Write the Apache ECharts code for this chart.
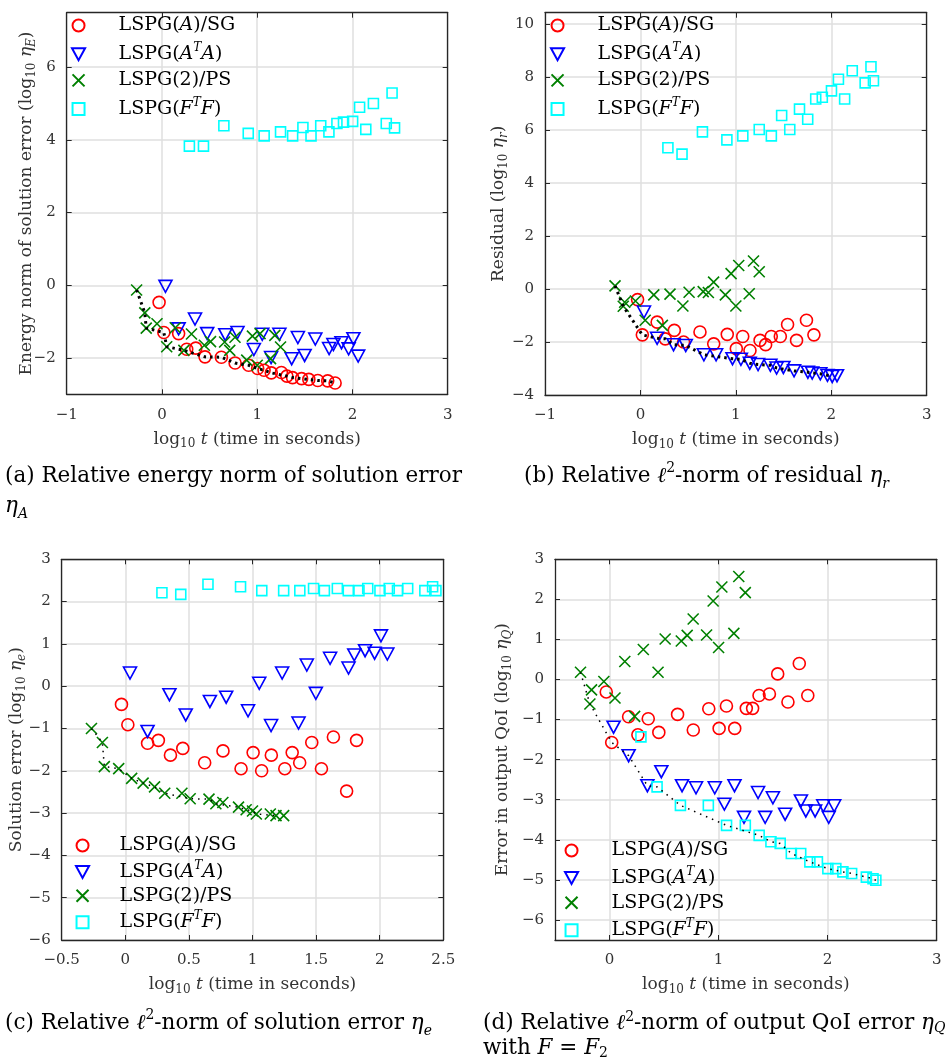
<!DOCTYPE html>
<html>
<head>
<meta charset="utf-8">
<script src="https://cdn.jsdelivr.net/npm/echarts@6/dist/echarts.min.js"></script>
<style>html,body{margin:0;padding:0;background:#fff}#c{width:950px;height:1059px}</style>
</head>
<body>
<div id="c"></div>
<script>
// ---------------- data ----------------
const seriesNames = ['LSPG(A)/SG', 'LSPG(ATA)', 'LSPG(2)/PS', 'LSPG(FTF)'];

// log10 wall time (same runs in all four panels)
const xRed   = [-0.03, 0.02, 0.175, 0.26, 0.355, 0.452, 0.624, 0.768, 0.91, 1.005, 1.072, 1.148, 1.254, 1.312, 1.371, 1.466, 1.542, 1.636, 1.74, 1.818];
const xBlue  = [0.037, 0.175, 0.347, 0.475, 0.665, 0.793, 0.965, 1.053, 1.146, 1.233, 1.362, 1.427, 1.498, 1.61, 1.755, 1.8, 1.885, 1.96, 2.01, 2.06];
const xGreen = [-0.266, -0.18, -0.165, -0.052, 0.05, 0.14, 0.23, 0.31, 0.445, 0.51, 0.658, 0.712, 0.767, 0.89, 0.95, 1.0, 1.03, 1.14, 1.185, 1.245];
const xCyan  = [0.288, 0.436, 0.65, 0.906, 1.073, 1.245, 1.372, 1.48, 1.565, 1.667, 1.753, 1.837, 1.906, 2.002, 2.075, 2.14, 2.22, 2.355, 2.416, 2.442];

// (a) energy norm of solution error
const yRedA   = [-0.47, -1.30, -1.33, -1.76, -1.73, -1.97, -1.98, -2.14, -2.20, -2.29, -2.34, -2.41, -2.40, -2.50, -2.54, -2.57, -2.59, -2.62, -2.63, -2.69];
const yBlueA  = [-0.03, -1.20, -0.93, -1.33, -1.36, -1.30, -1.77, -1.35, -1.99, -1.35, -2.02, -1.44, -1.93, -1.48, -1.74, -1.63, -1.58, -1.75, -1.47, -1.95];
const yGreenA = [-0.13, -0.76, -1.18, -1.06, -1.69, -1.17, -1.79, -1.34, -1.65, -1.55, -1.56, -1.79, -1.43, -2.06, -1.40, -2.20, -1.33, -2.02, -1.38, -1.70];
const yCyanA  = [3.83, 3.83, 4.39, 4.18, 4.11, 4.22, 4.11, 4.34, 4.11, 4.39, 4.22, 4.45, 4.49, 4.51, 4.90, 4.29, 5.00, 4.45, 5.29, 4.33];

// (b) residual
const yRedB   = [-0.40, -1.73, -1.25, -1.88, -1.56, -2.00, -1.62, -2.07, -1.71, -2.25, -1.79, -2.32, -1.94, -2.10, -1.79, -1.79, -1.34, -1.94, -1.18, -1.73];
const yBlueB  = [-0.87, -1.86, -2.10, -2.13, -2.48, -2.48, -2.63, -2.65, -2.80, -2.85, -2.88, -2.98, -2.96, -3.09, -3.14, -3.17, -3.20, -3.26, -3.30, -3.27];
const yGreenB = [0.12, -0.65, -0.50, -0.45, -1.18, -0.22, -1.37, -0.19, -0.64, -0.12, -0.10, -0.13, 0.26, -0.22, 0.58, -0.64, 0.89, -0.18, 1.06, 0.65];
const yCyanB  = [5.33, 5.09, 5.93, 5.63, 5.78, 6.02, 5.78, 6.55, 6.02, 6.79, 6.41, 7.17, 7.24, 7.48, 7.92, 7.17, 8.24, 7.78, 8.39, 7.86];

// (c) solution error
const yRedC   = [-0.43, -0.91, -1.35, -1.28, -1.63, -1.47, -1.81, -1.53, -1.95, -1.57, -2.00, -1.63, -1.95, -1.57, -1.81, -1.33, -1.95, -1.20, -2.48, -1.28];
const yBlueC  = [0.31, -1.07, -0.20, -0.68, -0.36, -0.26, -0.58, 0.07, -0.93, 0.31, -0.87, 0.50, -0.17, 0.66, 0.43, 0.74, 0.84, 0.78, 1.19, 0.76];
const yGreenC = [-1.00, -1.33, -1.90, -1.95, -2.18, -2.29, -2.38, -2.53, -2.53, -2.66, -2.67, -2.78, -2.75, -2.86, -2.92, -2.95, -3.02, -3.02, -3.06, -3.06];
const yCyanC  = [2.21, 2.17, 2.41, 2.35, 2.26, 2.26, 2.26, 2.31, 2.26, 2.31, 2.26, 2.26, 2.31, 2.26, 2.31, 2.26, 2.31, 2.26, 2.35, 2.26];

// (d) output QoI error
const yRedD   = [-0.31, -1.57, -0.93, -1.38, -0.98, -1.32, -0.87, -1.26, -0.73, -1.22, -0.66, -1.22, -0.72, -0.72, -0.40, -0.36, 0.14, -0.56, 0.40, -0.40];
const yBlueD  = [-1.19, -1.90, -2.65, -2.30, -2.65, -2.70, -2.70, -3.11, -2.65, -3.44, -2.82, -3.44, -2.95, -3.36, -3.03, -3.28, -3.28, -3.15, -3.44, -3.15];
const yGreenD = [0.18, -0.61, -0.26, -0.05, -0.46, 0.45, -0.92, 0.75, 0.18, 1.01, 0.96, 1.10, 1.51, 1.11, 1.96, 0.80, 2.31, 1.15, 2.57, 2.17];
const yCyanD  = [-1.43, -2.68, -3.14, -3.14, -3.64, -3.64, -3.89, -4.05, -4.09, -4.34, -4.34, -4.55, -4.55, -4.72, -4.72, -4.80, -4.84, -4.93, -4.97, -5.01];

// tick values
const xTicksAB = [-1, 0, 1, 2, 3];
const yTicksA  = [-2, 0, 2, 4, 6];
const yTicksB  = [-4, -2, 0, 2, 4, 6, 8, 10];
const xTicksC  = [-0.5, 0, 0.5, 1, 1.5, 2, 2.5];
const yTicksC  = [-6, -5, -4, -3, -2, -1, 0, 1, 2, 3];
const xTicksD  = [0, 1, 2, 3];
const yTicksD  = [-6, -5, -4, -3, -2, -1, 0, 1, 2, 3];

// ---------------- styling ----------------
const SERIF = 'DejaVu Serif';
const AX = '#333333';
const minus = v => String(v).replace('-', '\u2212');

const legendRich = {
  n:   {fontFamily: SERIF, fontSize: 19, color: '#000', lineHeight: 24, fontWeight: 'normal'},
  i:   {fontFamily: SERIF, fontSize: 19, color: '#000', lineHeight: 24, fontStyle: 'italic', fontWeight: 'normal'},
  sup: {fontFamily: SERIF, fontSize: 12, color: '#000', fontStyle: 'italic', fontWeight: 'normal', verticalAlign: 'top'}
};
const legendText = {
  'LSPG(A)/SG': '{n|LSPG(}{i|A}{n|)/SG}',
  'LSPG(ATA)':  '{n|LSPG(}{i|A}{sup|T}{i|A}{n|)}',
  'LSPG(2)/PS': '{n|LSPG(2)/PS}',
  'LSPG(FTF)':  '{n|LSPG(}{i|F}{sup|T}{i|F}{n|)}'
};
const nameRich = {
  n:   {fontFamily: SERIF, fontSize: 17, color: AX, lineHeight: 22},
  i:   {fontFamily: SERIF, fontSize: 17, color: AX, lineHeight: 22, fontStyle: 'italic'},
  sub: {fontFamily: SERIF, fontSize: 12, color: AX, verticalAlign: 'bottom'},
  si:  {fontFamily: SERIF, fontSize: 12, color: AX, fontStyle: 'italic', verticalAlign: 'bottom'}
};
function capRich(lh) {
  return {
    n:   {fontFamily: SERIF, fontSize: 21.5, color: '#000', lineHeight: lh, fontWeight: 'normal'},
    i:   {fontFamily: SERIF, fontSize: 21.5, color: '#000', lineHeight: lh, fontStyle: 'italic', fontWeight: 'normal'},
    sup: {fontFamily: SERIF, fontSize: 14, color: '#000', fontWeight: 'normal', verticalAlign: 'top'},
    sub: {fontFamily: SERIF, fontSize: 14, color: '#000', fontWeight: 'normal', verticalAlign: 'bottom'},
    si:  {fontFamily: SERIF, fontSize: 14, color: '#000', fontStyle: 'italic', fontWeight: 'normal', verticalAlign: 'bottom'}
  };
}

const markerStyles = [
  {symbol: 'circle', symbolSize: 12, color: '#ff0000'},
  {symbol: 'path://M0,0 L12,0 L6,11 Z', symbolSize: [13, 12], color: '#0000ff'},
  {symbol: 'path://M0,0 L10,10 M10,0 L0,10', symbolSize: [11, 11], color: '#008000'},
  {symbol: 'path://M0,0 L10,0 L10,10 L0,10 Z', symbolSize: [10, 10], color: '#00ffff'}
];

const xNameText = '{n|log}{sub|10}{i| t}{n| (time in seconds)}';

const panels = [
  {grid: {left: 66.7, top: 12.7, width: 381, height: 381.6},
   xr: [-1, 3], xt: xTicksAB, yr: [-3, 7.5], yt: yTicksA,
   yName: '{n|Energy norm of solution error (log}{sub|10}{i| η}{si|E}{n|)}', yGap: 29,
   ys: [yRedA, yBlueA, yGreenA, yCyanA],
   legend: {left: 71, top: 16, itemWidth: 70, itemGap: 7.2}, dot: {w: 3, t: [2.5, 4]}},
  {grid: {left: 545, top: 12.7, width: 381.7, height: 382.3},
   xr: [-1, 3], xt: xTicksAB, yr: [-4, 10.43], yt: yTicksB,
   yName: '{n|Residual (log}{sub|10}{i| η}{si|r}{n|)}', yGap: 35,
   ys: [yRedB, yBlueB, yGreenB, yCyanB],
   legend: {left: 550, top: 16, itemWidth: 70, itemGap: 7.2}, dot: {w: 3, t: [2.5, 4]}},
  {grid: {left: 61.7, top: 559.3, width: 381.6, height: 380.7},
   xr: [-0.5, 2.5], xt: xTicksC, yr: [-6, 3], yt: yTicksC,
   yName: '{n|Solution error (log}{sub|10}{i| η}{si|e}{n|)}', yGap: 34,
   ys: [yRedC, yBlueC, yGreenC, yCyanC],
   legend: {left: 75, top: 836, itemWidth: 64, itemGap: 4.9}, dot: {w: 1.5, t: [1.5, 5]}},
  {grid: {left: 555, top: 559.3, width: 381.7, height: 380.7},
   xr: [-0.5, 3], xt: xTicksD, yr: [-6.5, 3], yt: yTicksD,
   yName: '{n|Error in output QoI (log}{sub|10}{i| η}{si|Q}{n|)}', yGap: 41,
   ys: [yRedD, yBlueD, yGreenD, yCyanD],
   legend: {left: 564, top: 841, itemWidth: 70, itemGap: 5.9}, dot: {w: 1.5, t: [1.5, 5]}}
];

const xSets = [xRed, xBlue, xGreen, xCyan];

function paretoFront(ys) {
  const pts = [];
  xSets.forEach((xs, k) => xs.forEach((x, i) => pts.push([x, ys[k][i]])));
  pts.sort((a, b) => a[0] - b[0]);
  const out = [];
  let best = Infinity;
  pts.forEach(p => { if (p[1] < best) { best = p[1]; out.push(p); } });
  return out;
}

const grids = [], xAxes = [], yAxes = [], series = [], legends = [];
panels.forEach((p, gi) => {
  grids.push(Object.assign({containLabel: false, outerBoundsMode: 'none'}, p.grid));
  const lineStyle = {color: '#262626', width: 1.3};
  const tickBase = {show: true, inside: true, length: 5, lineStyle: {color: '#262626', width: 1}};
  xAxes.push({
    type: 'value', gridIndex: gi, position: 'bottom', min: p.xr[0], max: p.xr[1],
    axisLine: {show: true, onZero: false, lineStyle},
    axisTick: Object.assign({customValues: p.xt}, tickBase),
    axisLabel: {customValues: p.xt, formatter: minus, margin: 13, fontFamily: SERIF, fontSize: 15, color: AX},
    splitLine: {show: true, lineStyle: {color: '#dfdfdf', width: 1.5}},
    name: xNameText, nameLocation: 'middle', nameGap: 34, nameMoveOverlap: false,
    nameTextStyle: {rich: nameRich, fontFamily: SERIF, fontSize: 17, color: AX}
  });
  yAxes.push({
    type: 'value', gridIndex: gi, position: 'left', min: p.yr[0], max: p.yr[1],
    axisLine: {show: true, onZero: false, lineStyle},
    axisTick: Object.assign({customValues: p.yt}, tickBase),
    axisLabel: {customValues: p.yt, formatter: minus, margin: 11, fontFamily: SERIF, fontSize: 15, color: AX},
    splitLine: {show: true, lineStyle: {color: '#dfdfdf', width: 1.5}},
    name: p.yName, nameLocation: 'middle', nameRotate: 90, nameGap: p.yGap, nameMoveOverlap: false,
    nameTextStyle: {rich: nameRich, fontFamily: SERIF, fontSize: 17, color: AX}
  });
  p.ys.forEach((ys, k) => {
    const m = markerStyles[k];
    series.push({
      type: 'scatter', name: seriesNames[k], xAxisIndex: gi, yAxisIndex: gi,
      symbol: m.symbol, symbolSize: m.symbolSize,
      itemStyle: {color: 'rgba(0,0,0,0)', borderColor: m.color, borderWidth: 1.6, opacity: 1},
      data: xSets[k].map((x, i) => [x, ys[i]]), z: 2 + k * 0.01, silent: true
    });
  });
  series.push({
    type: 'line', name: 'front', xAxisIndex: gi, yAxisIndex: gi, showSymbol: false, symbol: 'none',
    lineStyle: {color: '#000', width: p.dot.w, type: p.dot.t}, data: paretoFront(p.ys), z: 3, silent: true
  });
  legends.push({
    data: seriesNames, orient: 'vertical', left: p.legend.left, top: p.legend.top,
    itemWidth: p.legend.itemWidth, itemHeight: 12, itemGap: p.legend.itemGap, padding: 0,
    selectedMode: false, formatter: n => legendText[n],
    textStyle: {rich: legendRich, fontFamily: SERIF, fontSize: 19, color: '#000', fontWeight: 'normal'}
  });
});
// mirrored box axes (top / right) with inward ticks
panels.forEach((p, gi) => {
  const lineStyle = {color: '#262626', width: 1.3};
  const tick = {show: true, inside: true, length: 5, lineStyle: {color: '#262626', width: 1}};
  xAxes.push({type: 'value', gridIndex: gi, position: 'top', min: p.xr[0], max: p.xr[1],
    axisLine: {show: true, onZero: false, lineStyle}, axisTick: Object.assign({customValues: p.xt}, tick),
    axisLabel: {show: false}, splitLine: {show: false}});
  yAxes.push({type: 'value', gridIndex: gi, position: 'right', min: p.yr[0], max: p.yr[1],
    axisLine: {show: true, onZero: false, lineStyle}, axisTick: Object.assign({customValues: p.yt}, tick),
    axisLabel: {show: false}, splitLine: {show: false}});
});

const titles = [
  {left: 5, top: 461, lh: 30, text: '{n|(a) Relative energy norm of solution error}\n{i|η}{si|A}'},
  {left: 524, top: 461, lh: 30, text: '{n|(b) Relative }{i|ℓ}{sup|2}{n|-norm of residual }{i|η}{si|r}'},
  {left: 5, top: 1008, lh: 30, text: '{n|(c) Relative }{i|ℓ}{sup|2}{n|-norm of solution error }{i|η}{si|e}'},
  {left: 483, top: 1010.5, lh: 25, text: '{n|(d) Relative }{i|ℓ}{sup|2}{n|-norm of output QoI error }{i|η}{si|Q}\n{n|with }{i|F}{n| = }{i|F}{sub|2}'}
].map(t => ({left: t.left, top: t.top, text: t.text, padding: 0, itemGap: 0,
  textStyle: {rich: capRich(t.lh), fontFamily: SERIF, fontSize: 21.5, fontWeight: 'normal', color: '#000', lineHeight: t.lh}}));

const chart = echarts.init(document.getElementById('c'), null, {renderer: 'canvas'});
chart.setOption({
  animation: false,
  backgroundColor: '#ffffff',
  title: titles,
  grid: grids,
  xAxis: xAxes,
  yAxis: yAxes,
  legend: legends,
  series: series
});
</script>
</body>
</html>
